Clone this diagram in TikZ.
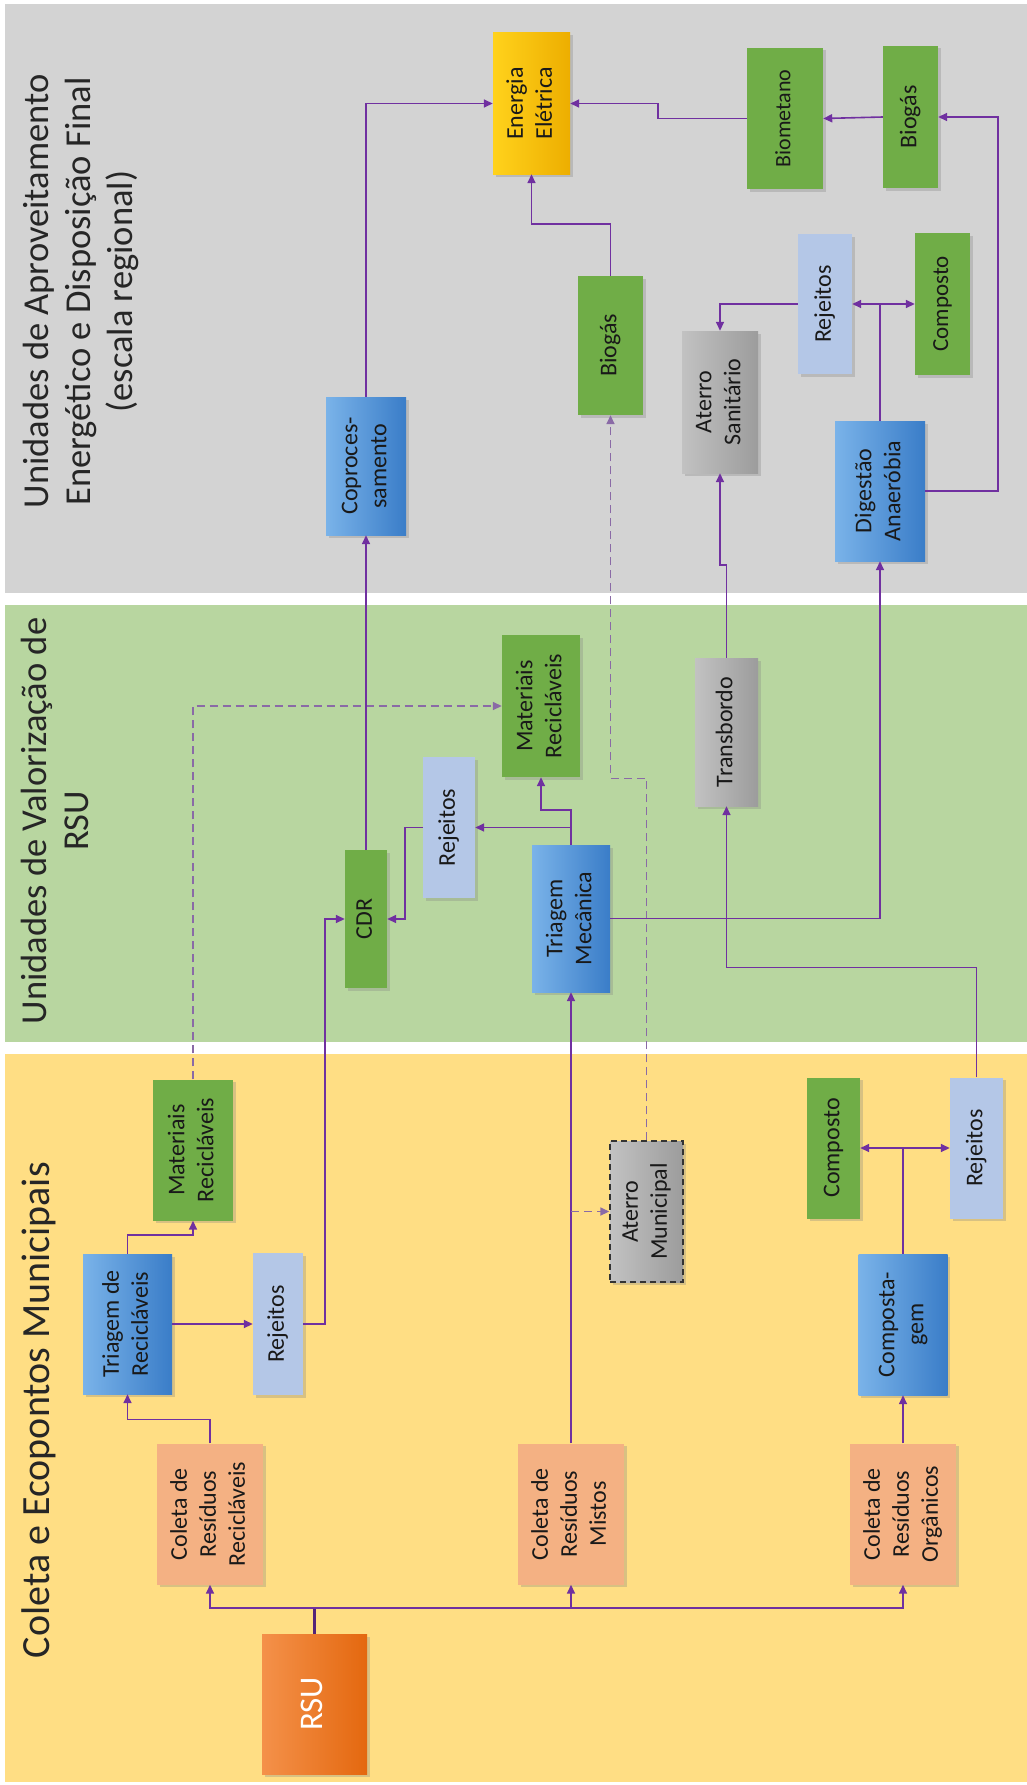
\documentclass[tikz,border=0pt]{standalone}
\usepackage{fontspec}
\setmainfont{Carlito}
\usepackage{tikz}
\usetikzlibrary{positioning,calc,shadows,arrows.meta}

\definecolor{roxo}{HTML}{7030A0}
\definecolor{roxoclaro}{HTML}{8A6AA6}
\definecolor{fundocinza}{HTML}{D3D3D3}
\definecolor{fundoverde}{HTML}{B8D6A0}
\definecolor{fundoamarelo}{HTML}{FFDE84}
\definecolor{salmao}{HTML}{F4B183}
\definecolor{azulA}{HTML}{7AB3E9}
\definecolor{azulB}{HTML}{3A7DC8}
\definecolor{azulclaro}{HTML}{B4C7E7}
\definecolor{verdeP}{HTML}{70AD47}
\definecolor{cinzaA}{HTML}{C2C2C2}
\definecolor{cinzaB}{HTML}{9C9C9C}
\definecolor{laranjaA}{HTML}{F4914A}
\definecolor{laranjaB}{HTML}{E4680F}
\definecolor{amareloA}{HTML}{FFD21C}
\definecolor{amareloB}{HTML}{EDAE00}

\newcommand{\vtxt}[1]{\rotatebox{90}{\begin{tabular}{@{}c@{}}#1\end{tabular}}}

\begin{document}
\begin{tikzpicture}[x=1pt,y=-1pt,
  caixa/.style={inner sep=0pt,font=\fontsize{24}{29}\selectfont,text=black!90,
    drop shadow={shadow xshift=2.5pt,shadow yshift=-2.5pt,opacity=.3}},
  tam/.style 2 args={minimum width=#1pt,minimum height=#2pt},
  coleta/.style={caixa,fill=salmao},
  proc/.style={caixa,left color=azulA,right color=azulB},
  prod/.style={caixa,fill=verdeP},
  rejeito/.style={caixa,fill=azulclaro},
  aterro/.style={caixa,left color=cinzaA,right color=cinzaB},
  fluxo/.style={draw=roxo,line width=1.6pt,-{Triangle[length=9pt,width=8pt]}},
  opcional/.style={fluxo,draw=roxoclaro,dash pattern=on 8pt off 5pt},
  titulo/.style={inner sep=0pt,font=\fontsize{36.5}{42}\selectfont,text=black!85}]

  \fill[white] (0,0) rectangle (1027,1785);
  \useasboundingbox (0,0) rectangle (1027,1785);
  \fill[fundocinza] (5,4) rectangle (1027,593);
  \fill[fundoverde] (5,605) rectangle (1027,1042);
  \fill[fundoamarelo] (5,1054) rectangle (1027,1782);

  \node[titulo] (tcinza) at (81.6,291.5) {\vtxt{Unidades de Aproveitamento\\Energético e Disposição Final\\(escala regional)}};
  \node[titulo] (tverde) at (59.6,821) {\vtxt{Unidades de Valorização de\\RSU}};
  \node[titulo,font=\fontsize{40}{42}\selectfont] (tamarelo) at (41.6,1410) {\vtxt{Coleta e Ecopontos Municipais}};

  \node[caixa,left color=laranjaA,right color=laranjaB,tam={105}{140},text=white,
    font=\fontsize{33}{38}\selectfont] (rsu) at (314.5,1704) {\vtxt{RSU}};
  \node[coleta,tam={106}{141}] (colrec) at (210,1514) {\vtxt{Coleta de\\Resíduos\\Recicláveis}};
  \node[coleta,tam={106}{141}] (colmis) at (571,1514) {\vtxt{Coleta de\\Resíduos\\Mistos}};
  \node[coleta,tam={106}{141}] (colorg) at (903,1514) {\vtxt{Coleta de\\Resíduos\\Orgânicos}};
  \node[proc,tam={89}{140}] (trirec) at (127.5,1324) {\vtxt{Triagem de\\Recicláveis}};
  \node[rejeito,tam={50}{142}] (rejrec) at (278,1324) {\vtxt{Rejeitos}};
  \node[prod,tam={80}{141}] (matrec) at (193,1150) {\vtxt{Materiais\\Recicláveis}};
  \node[aterro,tam={73}{141},draw=black!80,line width=1.4pt,dash pattern=on 6pt off 4pt]
    (atmun) at (646.5,1211.5) {\vtxt{Aterro\\Municipal}};
  \node[proc,tam={89}{141}] (compg) at (903,1324.5) {\vtxt{Composta-\\gem}};
  \node[prod,tam={53}{141}] (compy) at (833.5,1148) {\vtxt{Composto}};
  \node[rejeito,tam={53}{141}] (rejy) at (976.5,1148) {\vtxt{Rejeitos}};

  \node[prod,tam={42}{138}] (cdr) at (366,919) {\vtxt{CDR}};
  \node[rejeito,tam={52}{141}] (rejg) at (449,827.5) {\vtxt{Rejeitos}};
  \node[prod,tam={78}{142}] (matg) at (541,706) {\vtxt{Materiais\\Recicláveis}};
  \node[proc,tam={78}{147}] (trimec) at (571,918.5) {\vtxt{Triagem\\Mecânica}};
  \node[aterro,tam={63}{148}] (transb) at (726.5,732) {\vtxt{Transbordo}};

  \node[proc,tam={80}{138}] (coproc) at (366,466) {\vtxt{Coproces-\\samento}};
  \node[caixa,left color=amareloA,right color=amareloB,tam={77}{141}] (energia) at (531.5,103.5) {\vtxt{Energia\\Elétrica}};
  \node[prod,tam={65}{139}] (biogm) at (610.5,345.5) {\vtxt{Biogás}};
  \node[aterro,tam={76}{142}] (atsan) at (720,402) {\vtxt{Aterro\\Sanitário}};
  \node[rejeito,tam={54}{140}] (rejgr) at (825,304) {\vtxt{Rejeitos}};
  \node[prod,tam={55}{142},font=\fontsize{23}{28}\selectfont] (compgr) at (942.5,304) {\vtxt{Composto}};
  \node[proc,tam={90}{140}] (digest) at (880,491) {\vtxt{Digestão\\Anaeróbia}};
  \node[prod,tam={76}{141},font=\fontsize{22}{27}\selectfont] (biomet) at (785,118.5) {\vtxt{Biometano}};
  \node[prod,tam={55}{142}] (biogr) at (910.5,117) {\vtxt{Biogás}};

  \coordinate (barra) at (0,1608);
  \draw[roxo!75!black,line width=3pt] (rsu.north) -- (rsu.north |- barra);
  \foreach \c in {colrec,colmis,colorg}
    \draw[fluxo] (rsu.north |- barra) -| (\c.south);

  \draw[fluxo] (colrec.north) -- ++(0,-24) -| (trirec.south);
  \draw[fluxo] (trirec.north) -- ++(0,-19) -| (matrec.south);
  \draw[fluxo] (trirec.east) -- (rejrec.west);
  \draw[fluxo] (rejrec.east) -- ++(22,0) |- (cdr.west);
  \draw[opcional] (matrec.north) |- (matg.west);

  \draw[fluxo] (colmis.north) -- (trimec.south);
  \draw[opcional] (colmis.north |- atmun.west) -- (atmun.west);
  \draw[opcional] (atmun.north) -- ++(0,-362) -| (biogm.south);

  \draw[fluxo] (colorg.north) -- (compg.south);
  \foreach \c in {compy.east,rejy.west}
    \draw[fluxo] (compg.north) |- (\c);
  \draw[fluxo] (rejy.north) -- ++(0,-110) -| (transb.south);

  \draw[fluxo] (trimec.north) -- ++(0,-35) -| (matg.south);
  \draw[fluxo] (trimec.north |- rejg.east) -- (rejg.east);
  \draw[fluxo] (rejg.west) -- ++(-18,0) |- (cdr.east);
  \draw[fluxo] (trimec.east) -| (digest.south);
  \draw[fluxo] (transb.north) -- ++(0,-93) -| (atsan.south);

  \draw[fluxo] (cdr.north) -- (coproc.south);
  \draw[fluxo] (coproc.north) |- (energia.west);
  \draw[fluxo] (biogm.north) -- ++(0,-52) -| (energia.south);
  \foreach \c in {rejgr.east,compgr.west}
    \draw[fluxo] (digest.north) |- (\c);
  \draw[fluxo] (rejgr.west) -| (atsan.north);
  \draw[fluxo] (digest.east) -- ++(73,0) |- (biogr.east);
  \draw[fluxo] (biogr.west) -- (biomet.east);
  \draw[fluxo] (biomet.west) -- ++(-89,0) |- (energia.east);
\end{tikzpicture}
\end{document}
